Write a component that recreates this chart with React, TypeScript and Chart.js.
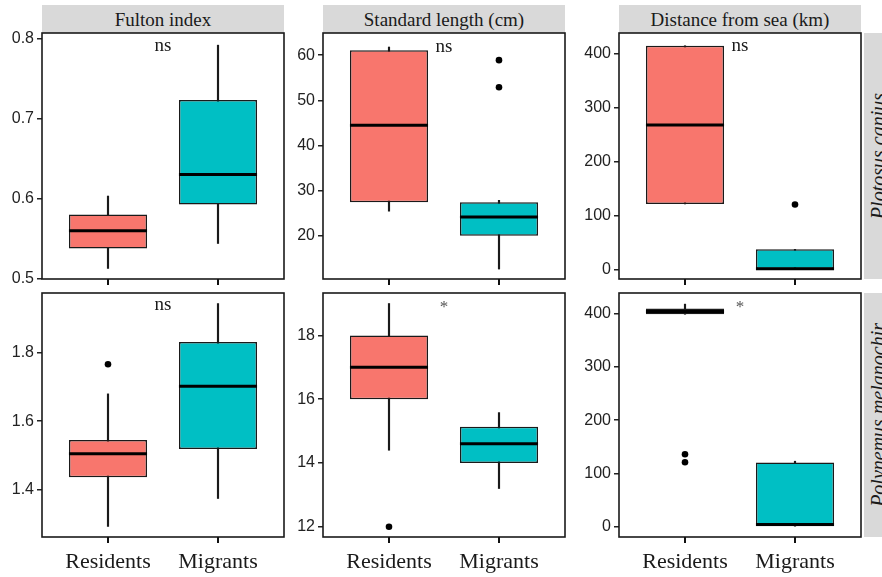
import React, { useEffect, useRef } from "react";
import { Chart, registerables } from "chart.js";
Chart.register(...registerables);

const groups = ["Residents", "Migrants"];
const metrics = ["Fulton index", "Standard length (cm)", "Distance from sea (km)"];
const species = ["Plotosus canius", "Polynemus melanochir"];

// [lower whisker, Q1, median, Q3, upper whisker] for Residents, Migrants
const fultonPlotosus = [[0.5125, 0.5375, 0.5595, 0.58, 0.603], [0.5437, 0.5925, 0.63, 0.7229, 0.7916]];
const lengthPlotosus = [[25.5, 27.45, 44.5, 61.1, 61.8], [12.7, 20.07, 24.2, 27.45, 27.9]];
const distancePlotosus = [[121, 121, 267, 414, 414], [0.5, 0.5, 1, 37, 37]];
const fultonPolynemus = [[1.291, 1.435, 1.504, 1.545, 1.68], [1.373, 1.518, 1.702, 1.832, 1.945]];
const lengthPolynemus = [[14.4, 16, 17, 18, 19], [13.2, 14, 14.6, 15.14, 15.58]];
const distancePolynemus = [[399, 399, 404, 410, 418], [1, 1, 4, 120.7, 123]];

// outliers for Residents, Migrants
const fultonPlotosusOut = [[], []];
const lengthPlotosusOut = [[], [52.9, 58.9]];
const distancePlotosusOut = [[], [120]];
const fultonPolynemusOut = [[1.767], []];
const lengthPolynemusOut = [[12], []];
const distancePolynemusOut = [[121, 136], []];

const significance = ["ns", "ns", "ns", "ns", "*", "*"];
const significanceY = [0.79, 61.8, 413.5, 1.94, 18.98, 418];

const fultonTicksTop = ["0.5", "0.6", "0.7", "0.8"];
const lengthTicksTop = ["20", "30", "40", "50", "60"];
const distanceTicks = ["0", "100", "200", "300", "400"];
const fultonTicksBottom = ["1.4", "1.6", "1.8"];
const lengthTicksBottom = ["12", "14", "16", "18"];

const yLimits = [
  [0.4993, 0.8068],
  [10.5, 64.9],
  [-18, 437.6],
  [1.26, 1.976],
  [11.68, 19.33],
  [-19.3, 438.9],
];

const boxColors = ["#F8766D", "#00BFC4"];
const INK = "#1a1a1a";
const SERIF = '"Liberation Serif", "Times New Roman", serif';
const SANS = '"Liberation Sans", Arial, sans-serif';

const COL_LEFT = [42, 323, 619];
const COL_W = 242;
const ROW_TOP = [33, 293];
const ROW_H = [246, 244];
const YW = 42;
const PAD_T = 16;
const PAD_R = 8;
const XH = [14, 40];

type PanelProps = {
  stats: number[][];
  outliers: number[][];
  ticks: string[];
  limits: number[];
  sig: string;
  sigY: number;
  row: number;
  col: number;
};

function Panel({ stats, outliers, ticks, limits, sig, sigY, row, col }: PanelProps) {
  const ref = useRef<HTMLCanvasElement | null>(null);
  const width = YW + COL_W + PAD_R;
  const height = PAD_T + ROW_H[row] + XH[row];
  const left = COL_LEFT[col] - YW;
  const top = ROW_TOP[row] - PAD_T;
  const showX = row === 1;

  useEffect(() => {
    if (!ref.current) return;
    const boxPlugin = {
      id: "boxExtras",
      afterDatasetsDraw(chart: any) {
        const ctx = chart.ctx;
        const yScale = chart.scales.y;
        const meta = chart.getDatasetMeta(1);
        ctx.save();
        meta.data.forEach((el: any, i: number) => {
          const y = yScale.getPixelForValue(stats[i][2]);
          ctx.beginPath();
          ctx.strokeStyle = "#000";
          ctx.lineWidth = 3;
          ctx.moveTo(el.x - el.width / 2, y);
          ctx.lineTo(el.x + el.width / 2, y);
          ctx.stroke();
        });
        ctx.restore();
      },
      afterDraw(chart: any) {
        const ctx = chart.ctx;
        const yScale = chart.scales.y;
        const xScale = chart.scales.x;
        const a = chart.chartArea;
        ctx.save();
        ctx.strokeStyle = INK;
        ctx.lineWidth = 1.6;
        ctx.strokeRect(a.left, a.top, a.right - a.left, a.bottom - a.top);
        ctx.strokeStyle = "#111";
        ctx.lineWidth = 2;
        for (let i = 0; i < groups.length; i++) {
          const x = Math.round(xScale.getPixelForValue(i + 1));
          ctx.beginPath();
          ctx.moveTo(x, a.bottom);
          ctx.lineTo(x, a.bottom + 6);
          ctx.stroke();
        }
        ctx.fillStyle = sig === "*" ? "#555" : INK;
        ctx.font = (sig === "*" ? "17px " : "19px ") + SERIF;
        ctx.textAlign = "center";
        ctx.textBaseline = "middle";
        ctx.fillText(sig, xScale.getPixelForValue(1.5), yScale.getPixelForValue(sigY) + (sig === "*" ? 3 : 0));
        ctx.restore();
      },
    };

    const chart = new Chart(ref.current, {
      type: "bar",
      data: {
        datasets: [
          {
            type: "bar",
            data: stats.map((s, i) => ({ x: i + 1, y: [s[0], s[4]] })),
            backgroundColor: INK,
            borderWidth: 0,
            barThickness: 1.5,
            grouped: false,
            order: 3,
          } as any,
          {
            type: "bar",
            data: stats.map((s, i) => ({ x: i + 1, y: [s[1], s[3]] })),
            backgroundColor: boxColors,
            borderColor: INK,
            borderWidth: 1.5,
            borderSkipped: false,
            grouped: false,
            barPercentage: 0.71,
            categoryPercentage: 1,
            order: 2,
          } as any,
          {
            type: "scatter",
            data: outliers.flatMap((arr, i) => arr.map((v) => ({ x: i + 1, y: v }))),
            pointRadius: 3.3,
            pointBackgroundColor: "#000",
            pointBorderWidth: 0,
            order: 1,
          } as any,
        ],
      },
      options: {
        animation: false,
        responsive: false,
        maintainAspectRatio: false,
        layout: { padding: { top: PAD_T, right: PAD_R, left: 0, bottom: 0 } },
        plugins: { legend: { display: false }, tooltip: { enabled: false }, title: { display: false } },
        scales: {
          x: {
            type: "linear",
            offset: false,
            min: 0.4,
            max: 2.6,
            afterBuildTicks: (s: any) => {
              s.ticks = [{ value: 1 }, { value: 2 }];
            },
            afterFit: (s: any) => {
              s.height = XH[row];
            },
            grid: { display: true, offset: false, drawOnChartArea: false, drawTicks: true, tickLength: 5, color: "#111", lineWidth: 2 },
            border: { display: false },
            ticks: {
              autoSkip: false,
              maxRotation: 0,
              padding: 7,
              color: INK,
              font: { family: SERIF, size: 22 },
              callback: (v: any) => (showX ? groups[Math.round(Number(v)) - 1] : ""),
            },
          },
          y: {
            type: "linear",
            min: limits[0],
            max: limits[1],
            afterBuildTicks: (s: any) => {
              s.ticks = ticks.map((t) => ({ value: parseFloat(t) }));
            },
            afterFit: (s: any) => {
              s.width = YW;
            },
            grid: { display: true, drawOnChartArea: false, drawTicks: true, tickLength: 5, color: "#222", lineWidth: 1.5 },
            border: { display: false },
            ticks: {
              autoSkip: false,
              padding: 3,
              color: "#222",
              font: { family: SANS, size: 16 },
              callback: (_v: any, i: number) => ticks[i],
            },
          },
        },
      } as any,
      plugins: [boxPlugin],
    });
    return () => chart.destroy();
  }, []);

  return (
    <canvas
      ref={ref}
      width={width}
      height={height}
      style={{ position: "absolute", left, top, width, height }}
    />
  );
}

export default function App() {
  const panels = [
    { stats: fultonPlotosus, outliers: fultonPlotosusOut, ticks: fultonTicksTop },
    { stats: lengthPlotosus, outliers: lengthPlotosusOut, ticks: lengthTicksTop },
    { stats: distancePlotosus, outliers: distancePlotosusOut, ticks: distanceTicks },
    { stats: fultonPolynemus, outliers: fultonPolynemusOut, ticks: fultonTicksBottom },
    { stats: lengthPolynemus, outliers: lengthPolynemusOut, ticks: lengthTicksBottom },
    { stats: distancePolynemus, outliers: distancePolynemusOut, ticks: distanceTicks },
  ];
  return (
    <div
      style={{
        position: "absolute",
        left: 0,
        top: 0,
        width: 882,
        height: 577,
        overflow: "hidden",
        background: "#fff",
      }}
    >
      {metrics.map((m, c) => (
        <div
          key={m}
          style={{
            position: "absolute",
            left: COL_LEFT[c],
            top: 5,
            width: COL_W,
            height: 28,
            background: "#d9d9d9",
            color: INK,
            fontFamily: SERIF,
            fontSize: 19,
            lineHeight: "29px",
            textAlign: "center",
            whiteSpace: "nowrap",
          }}
        >
          {m}
        </div>
      ))}
      {species.map((s, r) => (
        <div
          key={s}
          style={{
            position: "absolute",
            left: 864,
            top: ROW_TOP[r],
            width: 28,
            height: ROW_H[r],
            background: "#d9d9d9",
            display: "flex",
            alignItems: "center",
            justifyContent: "center",
          }}
        >
          <div
            style={{
              writingMode: "vertical-rl",
              transform: "rotate(180deg)",
              fontFamily: SERIF,
              fontStyle: "italic",
              fontSize: 20,
              lineHeight: "28px",
              color: INK,
              whiteSpace: "nowrap",
            }}
          >
            {s}
          </div>
        </div>
      ))}
      {panels.map((p, i) => (
        <Panel
          key={i}
          stats={p.stats}
          outliers={p.outliers}
          ticks={p.ticks}
          limits={yLimits[i]}
          sig={significance[i]}
          sigY={significanceY[i]}
          row={Math.floor(i / 3)}
          col={i % 3}
        />
      ))}
    </div>
  );
}
